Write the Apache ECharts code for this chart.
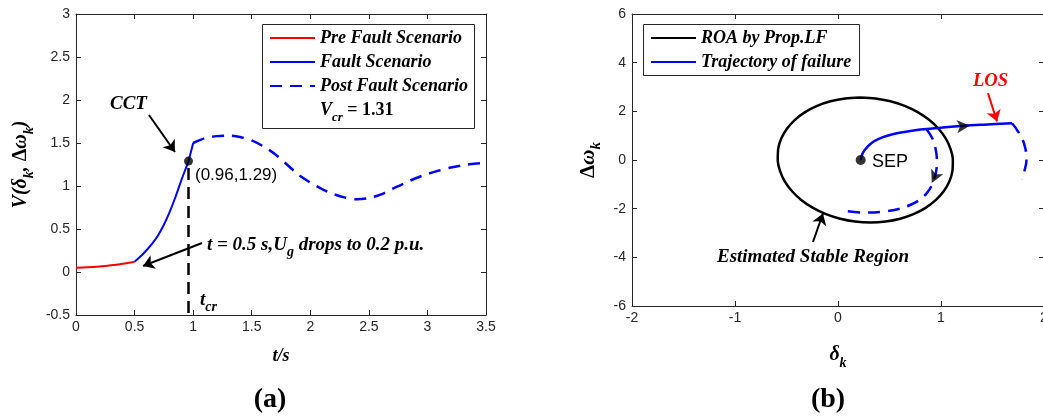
<!DOCTYPE html>
<html><head><meta charset="utf-8">
<script src="https://cdn.jsdelivr.net/npm/echarts@6/dist/echarts.min.js"></script>
<style>html,body{margin:0;padding:0;background:#fff}#c{width:1043px;height:420px}</style>
</head><body><div id="c"></div>
<script>
// ================= DATA =================
// (a) Lyapunov function value vs time
const preFaultT  = [0, 0.1, 0.2, 0.3, 0.4, 0.5];
const preFaultV  = [0.05, 0.055, 0.064, 0.078, 0.097, 0.12];
const faultT     = [0.5, 0.55, 0.6, 0.65, 0.7, 0.75, 0.8, 0.85, 0.9, 0.96, 0.98, 1.0];
const faultV     = [0.12, 0.18, 0.25, 0.33, 0.425, 0.55, 0.70, 0.875, 1.07, 1.29, 1.39, 1.50];
const postT      = [1.0, 1.05, 1.1, 1.2, 1.3, 1.4, 1.5, 1.6, 1.7, 1.8, 1.9, 2.0, 2.1, 2.2, 2.3, 2.4, 2.5, 2.6, 2.7, 2.8, 2.9, 3.0, 3.1, 3.2, 3.3, 3.4, 3.5];
const postV      = [1.50, 1.53, 1.555, 1.58, 1.585, 1.57, 1.53, 1.46, 1.37, 1.25, 1.13, 1.04, 0.965, 0.905, 0.865, 0.845, 0.86, 0.90, 0.965, 1.03, 1.09, 1.14, 1.18, 1.215, 1.24, 1.26, 1.27];
const tcr = 0.96, Vcct = 1.29;
const xTicksA = [0, 0.5, 1, 1.5, 2, 2.5, 3, 3.5];
const yTicksA = [-0.5, 0, 0.5, 1, 1.5, 2, 2.5, 3];

// (b) phase plane
const roaDelta = [0.215, 0.363, 0.509, 0.647, 0.773, 0.884, 0.976, 1.047, 1.093, 1.115, 1.111, 1.081, 1.026, 0.948, 0.850, 0.733, 0.603, 0.462, 0.315, 0.167, 0.021, -0.117, -0.243, -0.354, -0.446, -0.517, -0.563, -0.585, -0.581, -0.551, -0.496, -0.418, -0.320, -0.203, -0.073, 0.068, 0.215];
const roaOmega = [2.570, 2.531, 2.415, 2.226, 1.969, 1.652, 1.285, 0.879, 0.446, 0.0, -0.446, -0.879, -1.285, -1.652, -1.969, -2.226, -2.415, -2.531, -2.570, -2.531, -2.415, -2.226, -1.969, -1.652, -1.285, -0.879, -0.446, 0.0, 0.446, 0.879, 1.285, 1.652, 1.969, 2.226, 2.415, 2.531, 2.570];
const trajDelta = [0.22, 0.24, 0.29, 0.35, 0.43, 0.53, 0.66, 0.80, 1.00, 1.20, 1.45, 1.69];
const trajOmega = [0.00, 0.28, 0.56, 0.77, 0.93, 1.06, 1.16, 1.25, 1.33, 1.40, 1.46, 1.51];
const lossDelta = [1.69, 1.75, 1.81, 1.83, 1.81, 1.79];
const lossOmega = [1.51, 1.16, 0.62, 0.00, -0.45, -0.80];
const stabDelta = [0.86, 0.92, 0.95, 0.96, 0.94, 0.86, 0.70, 0.44, 0.25, 0.05];
const stabOmega = [1.26, 0.85, 0.40, 0.00, -0.69, -1.37, -1.85, -2.12, -2.16, -2.08];
const sep = [0.22, 0];
const xTicksB = [-2, -1, 0, 1, 2];
const yTicksB = [-6, -4, -2, 0, 2, 4, 6];

// ================= CHART =================
const zip = (a, b) => a.map((v, i) => [v, b[i]]);
const SERIF = 'Liberation Serif', SANS = 'Liberation Sans';
const AX = '#262626';
const BI = {fontFamily: SERIF, fontWeight: 'bold', fontStyle: 'italic', color: '#000'};
const rich = (fs, fill) => {
  const c = fill || '#000';
  return {
    v: {fontFamily: SERIF, fontWeight: 'bold', fontStyle: 'italic', color: c, fill: c, fontSize: fs, lineHeight: fs + 10},
    d: {fontFamily: SERIF, fontWeight: 'bold', fontStyle: 'italic', color: c, fill: c, fontSize: fs, lineHeight: fs + 10},
    D: {fontFamily: SERIF, fontWeight: 'bold', fontStyle: 'normal', color: c, fill: c, fontSize: fs, lineHeight: fs + 10},
    b: {fontFamily: SERIF, fontWeight: 'bold', fontStyle: 'normal', color: c, fill: c, fontSize: fs, lineHeight: fs + 10},
    s: {fontFamily: SERIF, fontWeight: 'bold', fontStyle: 'italic', color: c, fill: c, fontSize: Math.round(fs * 0.72), verticalAlign: 'bottom'}
  };
};

function axis(kind, grid, ticks, pos, labels, nameCfg) {
  const a = {
    type: 'value', gridIndex: grid, position: pos,
    min: ticks[0], max: ticks[ticks.length - 1], interval: ticks[1] - ticks[0],
    axisLine: {show: true, onZero: false, lineStyle: {color: AX, width: 1}},
    axisTick: {show: true, inside: true, length: 5, lineStyle: {color: AX}},
    axisLabel: {show: labels, color: AX, fontFamily: SANS, fontSize: 14, margin: kind === 'x' ? 5 : 6},
    splitLine: {show: false}
  };
  if (nameCfg) Object.assign(a, nameCfg);
  return a;
}

const legendBase = {orient: 'vertical', padding: 0, itemWidth: 45, itemHeight: 18, itemGap: 6, selectedMode: false,
  itemStyle: {opacity: 0},
  textStyle: Object.assign({}, BI, {fontSize: 18, lineHeight: 18})};

const option = {
  backgroundColor: '#fff',
  animation: false,
  grid: [
    {left: 76, top: 14, width: 410, height: 301, outerBoundsMode: 'none', containLabel: false},
    {left: 632, top: 14, width: 412, height: 292, outerBoundsMode: 'none', containLabel: false}
  ],
  xAxis: [
    axis('x', 0, xTicksA, 'bottom', true, {name: 't/s', nameLocation: 'middle', nameGap: 32,
      nameTextStyle: Object.assign({}, BI, {fontSize: 18})}),
    axis('x', 0, xTicksA, 'top', false),
    axis('x', 1, xTicksB, 'bottom', true, {name: '{d|δ}{s|k}', nameLocation: 'middle', nameGap: 34,
      nameTextStyle: Object.assign({}, BI, {fontSize: 20, rich: rich(20)})}),
    axis('x', 1, xTicksB, 'top', false)
  ],
  yAxis: [
    axis('y', 0, yTicksA, 'left', true, {name: '{v|V(}{d|δ}{s|k}{v|, }{D|Δ}{d|ω}{s|k}{v|)}', nameLocation: 'middle', nameGap: 40,
      nameTextStyle: Object.assign({}, BI, {fontSize: 20, rich: rich(20)})}),
    axis('y', 0, yTicksA, 'right', false),
    axis('y', 1, yTicksB, 'left', true, {name: '{D|Δ}{d|ω}{s|k}', nameLocation: 'middle', nameGap: 28,
      nameTextStyle: Object.assign({}, BI, {fontSize: 21, rich: rich(21)})}),
    axis('y', 1, yTicksB, 'right', false)
  ],
  legend: [
    Object.assign({}, legendBase, {data: ['Pre Fault Scenario', 'Fault Scenario', 'Post Fault Scenario'], left: 269, top: 29}),
    Object.assign({}, legendBase, {data: ['ROA by Prop.LF', 'Trajectory of failure'], left: 650, top: 29})
  ],
  series: [
    {name: 'Pre Fault Scenario', type: 'line', xAxisIndex: 0, yAxisIndex: 0, symbol: 'none', smooth: 0.3,
     data: zip(preFaultT, preFaultV), lineStyle: {color: '#ff0000', width: 2}, itemStyle: {color: '#ff0000'}},
    {name: 'Fault Scenario', type: 'line', xAxisIndex: 0, yAxisIndex: 0, symbol: 'none', smooth: 0.3,
     data: zip(faultT, faultV), lineStyle: {color: '#0000ff', width: 2}, itemStyle: {color: '#0000ff'},
     markLine: {silent: true, animation: false, label: {show: false}, symbol: ['none', 'arrow'], symbolSize: 11,
       data: [
         [{coord: [0.623, 1.826], lineStyle: {color: '#000', width: 2, type: 'solid'}}, {coord: [0.845, 1.395]}],
         [{coord: [1.076, 0.337], lineStyle: {color: '#000', width: 2, type: 'solid'}}, {coord: [0.572, 0.07]}],
         [{coord: [tcr, 1.21], symbol: 'none', lineStyle: {color: '#000', width: 2.5, type: [12, 7]}}, {coord: [tcr, yTicksA[0]], symbol: 'none'}]
       ]}},
    {name: 'Post Fault Scenario', type: 'line', xAxisIndex: 0, yAxisIndex: 0, symbol: 'none', smooth: 0.3,
     data: zip(postT, postV), lineStyle: {color: '#0000ff', width: 2.5, type: [12, 8]}, itemStyle: {color: '#0000ff'}},
    {type: 'scatter', xAxisIndex: 0, yAxisIndex: 0, symbolSize: 9, z: 5, data: [[tcr, Vcct]], itemStyle: {color: '#000'}},

    {name: 'ROA by Prop.LF', type: 'line', xAxisIndex: 2, yAxisIndex: 2, symbol: 'none', smooth: 0.3,
     data: zip(roaDelta, roaOmega), lineStyle: {color: '#000', width: 2.5}, itemStyle: {color: '#000'},
     markLine: {silent: true, animation: false, label: {show: false}, symbol: ['none', 'arrow'], symbolSize: 11,
       data: [
         [{coord: [-0.243, -3.37], lineStyle: {color: '#000', width: 2, type: 'solid'}}, {coord: [-0.146, -2.2]}],
         [{coord: [1.456, 2.75], lineStyle: {color: '#ff0000', width: 2, type: 'solid'}, itemStyle: {color: '#ff0000'}}, {coord: [1.544, 1.58]}]
       ]}},
    {name: 'Trajectory of failure', type: 'line', xAxisIndex: 2, yAxisIndex: 2, symbol: 'none', smooth: 0.4,
     data: zip(trajDelta, trajOmega), lineStyle: {color: '#0000ff', width: 2.5}, itemStyle: {color: '#0000ff'}},
    {type: 'line', xAxisIndex: 2, yAxisIndex: 2, symbol: 'none', smooth: 0.4,
     data: zip(lossDelta, lossOmega), lineStyle: {color: '#0000ff', width: 2.5, type: [12, 8]}},
    {type: 'line', xAxisIndex: 2, yAxisIndex: 2, symbol: 'none', smooth: 0.4,
     data: zip(stabDelta, stabOmega), lineStyle: {color: '#0000ff', width: 2.5, type: [12, 8]}},
    {type: 'scatter', xAxisIndex: 2, yAxisIndex: 2, symbolSize: 10, z: 5, data: [sep], itemStyle: {color: '#000'}},
    {type: 'scatter', xAxisIndex: 2, yAxisIndex: 2, symbol: 'arrow', symbolSize: [10, 13], symbolRotate: -86, z: 5,
     data: [[1.28, 1.41]], itemStyle: {color: '#000'}},
    {type: 'scatter', xAxisIndex: 2, yAxisIndex: 2, symbol: 'arrow', symbolSize: [10, 13], symbolRotate: 155, z: 5,
     data: [[0.91, -0.95]], itemStyle: {color: '#000'}}
  ],
  graphic: [
    {type: 'rect', shape: {x: 262.5, y: 24.5, width: 212, height: 104}, style: {fill: 'none', stroke: AX, lineWidth: 1}, silent: true, z: 100},
    {type: 'rect', shape: {x: 643.5, y: 24.5, width: 216, height: 51}, style: {fill: 'none', stroke: AX, lineWidth: 1}, silent: true, z: 100},
    {type: 'text', x: 320, y: 110, z: 100, style: {text: '{v|V}{s|cr}{b| = 1.31}', verticalAlign: 'middle', rich: rich(18)}},
    {type: 'text', x: 110, y: 104, z: 100, style: {text: 'CCT', verticalAlign: 'middle', fontFamily: SERIF, fontWeight: 'bold', fontStyle: 'italic', fontSize: 19, fill: '#000'}},
    {type: 'text', x: 195, y: 175, z: 100, style: {text: '(0.96,1.29)', verticalAlign: 'middle', fontFamily: SANS, fontSize: 17, fill: '#000'}},
    {type: 'text', x: 207, y: 245, z: 100, style: {text: '{v|t = 0.5 s,U}{s|g}{v| drops to 0.2 p.u.}', verticalAlign: 'middle', rich: rich(19)}},
    {type: 'text', x: 200, y: 300, z: 100, style: {text: '{v|t}{s|cr}', verticalAlign: 'middle', rich: rich(19)}},
    {type: 'text', x: 973, y: 81, z: 100, style: {text: 'LOS', verticalAlign: 'middle', fontFamily: SERIF, fontWeight: 'bold', fontStyle: 'italic', fontSize: 18.5, fill: '#ff0000'}},
    {type: 'text', x: 717, y: 257, z: 100, style: {text: 'Estimated Stable Region', verticalAlign: 'middle', fontFamily: SERIF, fontWeight: 'bold', fontStyle: 'italic', fontSize: 19, fill: '#000'}},
    {type: 'text', x: 872, y: 162, z: 100, style: {text: 'SEP', verticalAlign: 'middle', fontFamily: SANS, fontSize: 18, fill: '#000'}},
    {type: 'text', x: 270, y: 400, z: 100, style: {text: '(a)', align: 'center', verticalAlign: 'middle', fontFamily: SERIF, fontWeight: 'bold', fontSize: 28, fill: '#000'}},
    {type: 'text', x: 828, y: 400, z: 100, style: {text: '(b)', align: 'center', verticalAlign: 'middle', fontFamily: SERIF, fontWeight: 'bold', fontSize: 28, fill: '#000'}}
  ]
};
const chart = echarts.init(document.getElementById('c'), null, {renderer: 'canvas'});
chart.setOption(option);
</script></body></html>
